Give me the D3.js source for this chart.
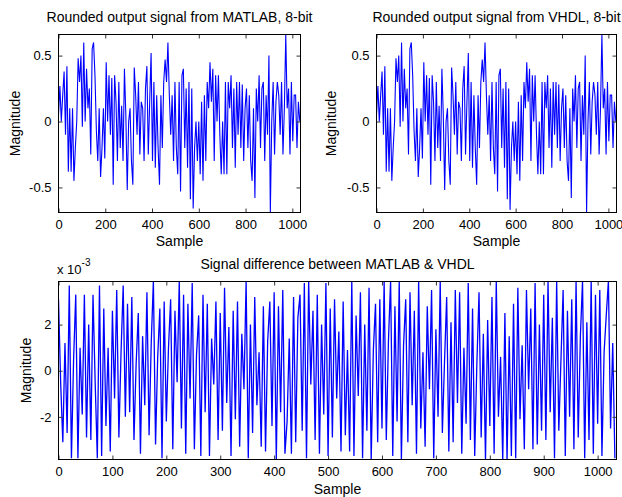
<!DOCTYPE html>
<html>
<head>
<meta charset="utf-8">
<script src="https://cdn.jsdelivr.net/npm/d3@7"></script>
<style>
  body { margin: 0; background: #fff; }
  text { font-family: Arial, "Liberation Sans", sans-serif; fill: #000; }
</style>
</head>
<body>
<div id="chart"></div>
<script>
var width = 622, height = 497;

// sample spacing of the values below (every 6th sample for the outputs, every 4th for the difference)
var outStep = 6, diffStep = 4;

var matlabOut = [
  0.05, 0.27, 0.0, 0.2, 0.38, -0.1, 0.42, -0.38, 0.1, -0.38,
  0.1, -0.45, -0.2, 0.0, 0.48, 0.3, 0.5, -0.04, 0.6, 0.0,
  0.4, 0.1, 0.25, -0.25, 0.55, 0.6, 0.35, -0.07, -0.3, 0.1,
  -0.42, -0.2, 0.1, -0.28, 0.45, 0.0, 0.35, -0.1, 0.33, -0.48,
  0.35, 0.15, -0.3, 0.3, -0.2, 0.12, -0.3, 0.4, 0.05, -0.52,
  0.0, 0.1, -0.3, -0.48, 0.41, 0.2, -0.1, 0.3, -0.25, 0.15,
  0.1, -0.3, 0.25, 0.42, -0.25, 0.15, 0.52, -0.3, 0.3, -0.35,
  0.2, -0.2, -0.48, 0.2, -0.2, 0.3, 0.47, 0.3, 0.6, 0.2,
  -0.1, 0.2, -0.3, 0.3, -0.2, -0.4, 0.3, -0.53, 0.35, 0.4,
  -0.2, 0.25, -0.35, 0.3, -0.59, 0.25, -0.66, -0.2, 0.0, -0.3,
  0.0, -0.4, 0.15, -0.45, 0.2, -0.3, 0.3, 0.1, 0.45, 0.15,
  0.4, -0.3, 0.35, 0.0, 0.35, -0.1, -0.4, 0.0, -0.4, 0.3,
  -0.4, 0.3, 0.1, 0.35, -0.2, 0.25, -0.35, 0.3, -0.1, 0.3,
  -0.2, 0.28, -0.3, 0.1, 0.25, -0.2, 0.2, -0.3, -0.45, 0.1,
  -0.58, 0.25, 0.0, 0.35, -0.2, 0.25, 0.3, -0.3, 0.2, -0.1,
  0.5, -0.69, 0.0, 0.3, -0.25, 0.15, 0.3, 0.2, -0.1, 0.3,
  -0.25, 0.1, 0.66, 0.1, 0.25, -0.25, 0.3, -0.15, 0.2, 0.2,
  -0.2, 0.15, 0.0
];

var vhdlOut = [
  0.05, 0.27, 0.0, 0.2, 0.38, -0.1, 0.42, -0.38, 0.1, -0.38,
  0.1, -0.45, -0.2, 0.0, 0.48, 0.3, 0.5, -0.04, 0.6, 0.0,
  0.4, 0.1, 0.25, -0.25, 0.55, 0.6, 0.35, -0.07, -0.3, 0.1,
  -0.42, -0.2, 0.1, -0.28, 0.45, 0.0, 0.35, -0.1, 0.33, -0.48,
  0.35, 0.15, -0.3, 0.3, -0.2, 0.12, -0.3, 0.4, 0.05, -0.52,
  0.0, 0.1, -0.3, -0.48, 0.41, 0.2, -0.1, 0.3, -0.25, 0.15,
  0.1, -0.3, 0.25, 0.42, -0.25, 0.15, 0.52, -0.3, 0.3, -0.35,
  0.2, -0.2, -0.48, 0.2, -0.2, 0.3, 0.47, 0.3, 0.6, 0.2,
  -0.1, 0.2, -0.3, 0.3, -0.2, -0.4, 0.3, -0.53, 0.35, 0.4,
  -0.2, 0.25, -0.35, 0.3, -0.59, 0.25, -0.67, -0.2, 0.0, -0.3,
  0.0, -0.4, 0.15, -0.45, 0.2, -0.3, 0.3, 0.1, 0.45, 0.15,
  0.4, -0.3, 0.35, 0.0, 0.35, -0.1, -0.4, 0.0, -0.4, 0.3,
  -0.4, 0.3, 0.1, 0.35, -0.2, 0.25, -0.35, 0.3, -0.1, 0.3,
  -0.2, 0.28, -0.3, 0.1, 0.25, -0.2, 0.2, -0.3, -0.45, 0.1,
  -0.58, 0.25, 0.0, 0.35, -0.2, 0.25, 0.3, -0.3, 0.2, -0.1,
  0.5, -0.69, 0.0, 0.3, -0.25, 0.15, 0.3, 0.2, -0.1, 0.3,
  -0.25, 0.1, 0.66, 0.1, 0.25, -0.25, 0.3, -0.15, 0.2, 0.2,
  -0.2, 0.15, 0.0
];

// difference, in units of 1e-3
var diffMilli = [
  3.1, -0.5, -3.1, 1.2, -2.7, 3.7, -3.8, 0.5, 3.3, -3.8,
  1.0, -1.9, 3.3, -2.9, 2.0, -3.0, 3.3, -0.5, -3.8, 3.7,
  -3.7, 2.7, -2.4, 1.0, -3.5, 2.6, -1.2, 3.5, -2.9, 0.8,
  3.7, -2.0, 2.9, -1.8, 3.2, -3.0, 0.3, 2.5, -3.6, 1.5,
  -1.5, 3.4, -2.8, 1.2, 3.9, -3.2, 0.6, 2.7, -3.8, 3.0,
  -2.2, 1.0, 3.1, -3.4, 2.6, -0.5, 3.9, -2.5, 3.3, -3.6,
  2.9, -1.2, 3.8, -3.4, 0.7, 2.4, -3.7, 3.3, -1.8, 2.9,
  -3.7, 1.4, -0.6, 3.0, -3.0, 2.5, -2.6, 3.6, -1.4, 1.9,
  -3.7, 2.6, -2.1, 3.0, -3.3, 1.6, -0.8, 3.9, -3.8, 2.0,
  -2.7, 3.2, -1.5, 0.8, -3.3, 2.8, -3.5, 1.3, 3.0, -2.4,
  3.4, -3.9, 2.8, -1.8, 3.5, -3.6, -2.2, 1.4, -3.6, 3.2,
  -3.1, 2.3, 3.3, -2.6, 3.8, -3.8, 3.9, -0.6, 2.6, -3.0,
  3.3, -3.6, 2.0, -1.9, 3.8, -3.7, 2.7, -2.9, 3.1, -1.2,
  1.7, -3.5, 3.0, -2.8, 0.9, -3.5, 3.9, -3.7, 2.4, -1.1,
  3.4, -3.8, 2.0, -2.6, 3.6, -3.9, 0.9, 2.9, -3.1, 3.1,
  -2.5, 3.9, -3.0, 1.3, 3.9, -3.7, 2.8, -2.2, 3.9, -3.9,
  1.1, 3.1, -3.1, 3.4, -1.5, 2.6, -3.6, 3.9, -2.5, 0.8,
  -3.3, 2.8, -0.8, 3.5, -3.8, 1.8, -2.0, 3.9, -2.7, 0.4,
  3.2, -3.5, 2.1, -3.1, 3.5, -1.4, 3.4, -3.6, 1.0, -2.3,
  3.8, -3.0, 2.7, -3.7, 0.3, 3.4, -2.9, 1.6, -3.9, 2.2,
  -2.4, 3.2, -3.6, 3.9, -2.0, 0.6, -3.9, 2.5, -3.9, 1.5,
  -3.7, 2.9, -3.8, 3.6, -2.1, 1.1, -3.4, 3.5, -0.8, 2.7,
  -3.4, 3.8, -3.2, 2.0, -2.6, 3.3, -3.0, 3.9, -1.8, 2.3,
  -3.8, 3.9, -2.6, 0.5, 3.5, -3.7, 2.6, -2.0, 3.1, -3.4,
  3.9, -2.9, 1.5, 3.9, -3.8, 2.1, -3.0, 3.9, -3.6, 3.3,
  -2.3, 3.5, -3.7, 0.8, 2.4, 3.9, -2.5, 1.2, -3.8
];

var topXTicks = [0, 200, 400, 600, 800, 1000];
var topYTicks = [-0.5, 0, 0.5];
var botXTicks = [0, 100, 200, 300, 400, 500, 600, 700, 800, 900, 1000];
var botYTicks = [-2, 0, 2];

var svg = d3.select("#chart").append("svg")
    .attr("width", width)
    .attr("height", height);

function panel(opts) {
    var x = d3.scaleLinear().domain([0, 1035]).range([opts.left, opts.right]);
    var y = d3.scaleLinear().domain(opts.yDomain).range([opts.bottom, opts.top]);
    var g = svg.append("g");
    var id = "clip" + opts.name;

    svg.append("clipPath").attr("id", id)
        .append("rect")
        .attr("x", opts.left).attr("y", opts.top)
        .attr("width", opts.right - opts.left).attr("height", opts.bottom - opts.top);

    var line = d3.line()
        .x((d, i) => x(i * opts.step))
        .y(d => y(d));

    g.append("path")
        .datum(opts.values)
        .attr("clip-path", "url(#" + id + ")")
        .attr("fill", "none")
        .attr("stroke", "#0000ff")
        .attr("stroke-width", opts.lw)
        .attr("d", line);

    var tk = 4;
    // inward ticks on all four sides
    var bx = g.append("g").attr("transform", "translate(0," + opts.bottom + ")")
        .call(d3.axisBottom(x).tickValues(opts.xTicks).tickSizeInner(-tk).tickSizeOuter(0)
            .tickPadding(7).tickFormat(d3.format("d")));
    var tx = g.append("g").attr("transform", "translate(0," + opts.top + ")")
        .call(d3.axisTop(x).tickValues(opts.xTicks).tickSizeInner(-tk).tickSizeOuter(0).tickFormat(""));
    var ly = g.append("g").attr("transform", "translate(" + opts.left + ",0)")
        .call(d3.axisLeft(y).tickValues(opts.yTicks).tickSizeInner(-tk).tickSizeOuter(0).tickPadding(7)
            .tickFormat(d => d === 0 ? "0" : (d < 0 ? "-" + Math.abs(d) : String(d))));
    var ry = g.append("g").attr("transform", "translate(" + opts.right + ",0)")
        .call(d3.axisRight(y).tickValues(opts.yTicks).tickSizeInner(-tk).tickSizeOuter(0).tickFormat(""));

    [bx, tx, ly, ry].forEach(a => {
        a.select(".domain").remove();
        a.selectAll(".tick line").attr("stroke", "#333");
        a.selectAll(".tick text").attr("font-size", 13).attr("font-family", "Arial, 'Liberation Sans', sans-serif");
    });

    g.append("rect")
        .attr("x", opts.left).attr("y", opts.top)
        .attr("width", opts.right - opts.left).attr("height", opts.bottom - opts.top)
        .attr("fill", "none").attr("stroke", "#000").attr("stroke-width", 1);

    g.append("text")
        .attr("x", (opts.left + opts.right) / 2).attr("y", opts.titleY)
        .attr("text-anchor", "middle").attr("font-size", 14)
        .text(opts.title);

    g.append("text")
        .attr("x", (opts.left + opts.right) / 2).attr("y", opts.xLabelY)
        .attr("text-anchor", "middle").attr("font-size", 14)
        .text("Sample");

    g.append("text")
        .attr("transform", "translate(" + opts.yLabelX + "," + ((opts.top + opts.bottom) / 2) + ") rotate(-90)")
        .attr("text-anchor", "middle").attr("font-size", 14)
        .text("Magnitude");

    return g;
}

panel({
    name: "a", left: 58.5, right: 300.5, top: 34.5, bottom: 212.5,
    yDomain: [-0.69, 0.66], values: matlabOut, step: outStep, lw: 1.1,
    xTicks: topXTicks, yTicks: topYTicks,
    title: "Rounded output signal from MATLAB, 8-bit", titleY: 22,
    xLabelY: 246, yLabelX: 20
});

panel({
    name: "b", left: 376.5, right: 616.5, top: 34.5, bottom: 212.5,
    yDomain: [-0.69, 0.66], values: vhdlOut, step: outStep, lw: 1.1,
    xTicks: topXTicks, yTicks: topYTicks,
    title: "Rounded output signal from VHDL, 8-bit", titleY: 22,
    xLabelY: 246, yLabelX: 336
});

var gb = panel({
    name: "c", left: 58.5, right: 616.5, top: 281.5, bottom: 459.5,
    yDomain: [-3.85, 3.87], values: diffMilli, step: diffStep, lw: 1.3,
    xTicks: botXTicks, yTicks: botYTicks,
    title: "Signal difference between MATLAB & VHDL", titleY: 269,
    xLabelY: 494, yLabelX: 31
});

var ex = gb.append("text").attr("x", 57).attr("y", 274).attr("font-size", 13);
ex.append("tspan").text("x 10");
ex.append("tspan").attr("font-size", 10).attr("dy", -8).text("-3");
</script>
</body>
</html>
